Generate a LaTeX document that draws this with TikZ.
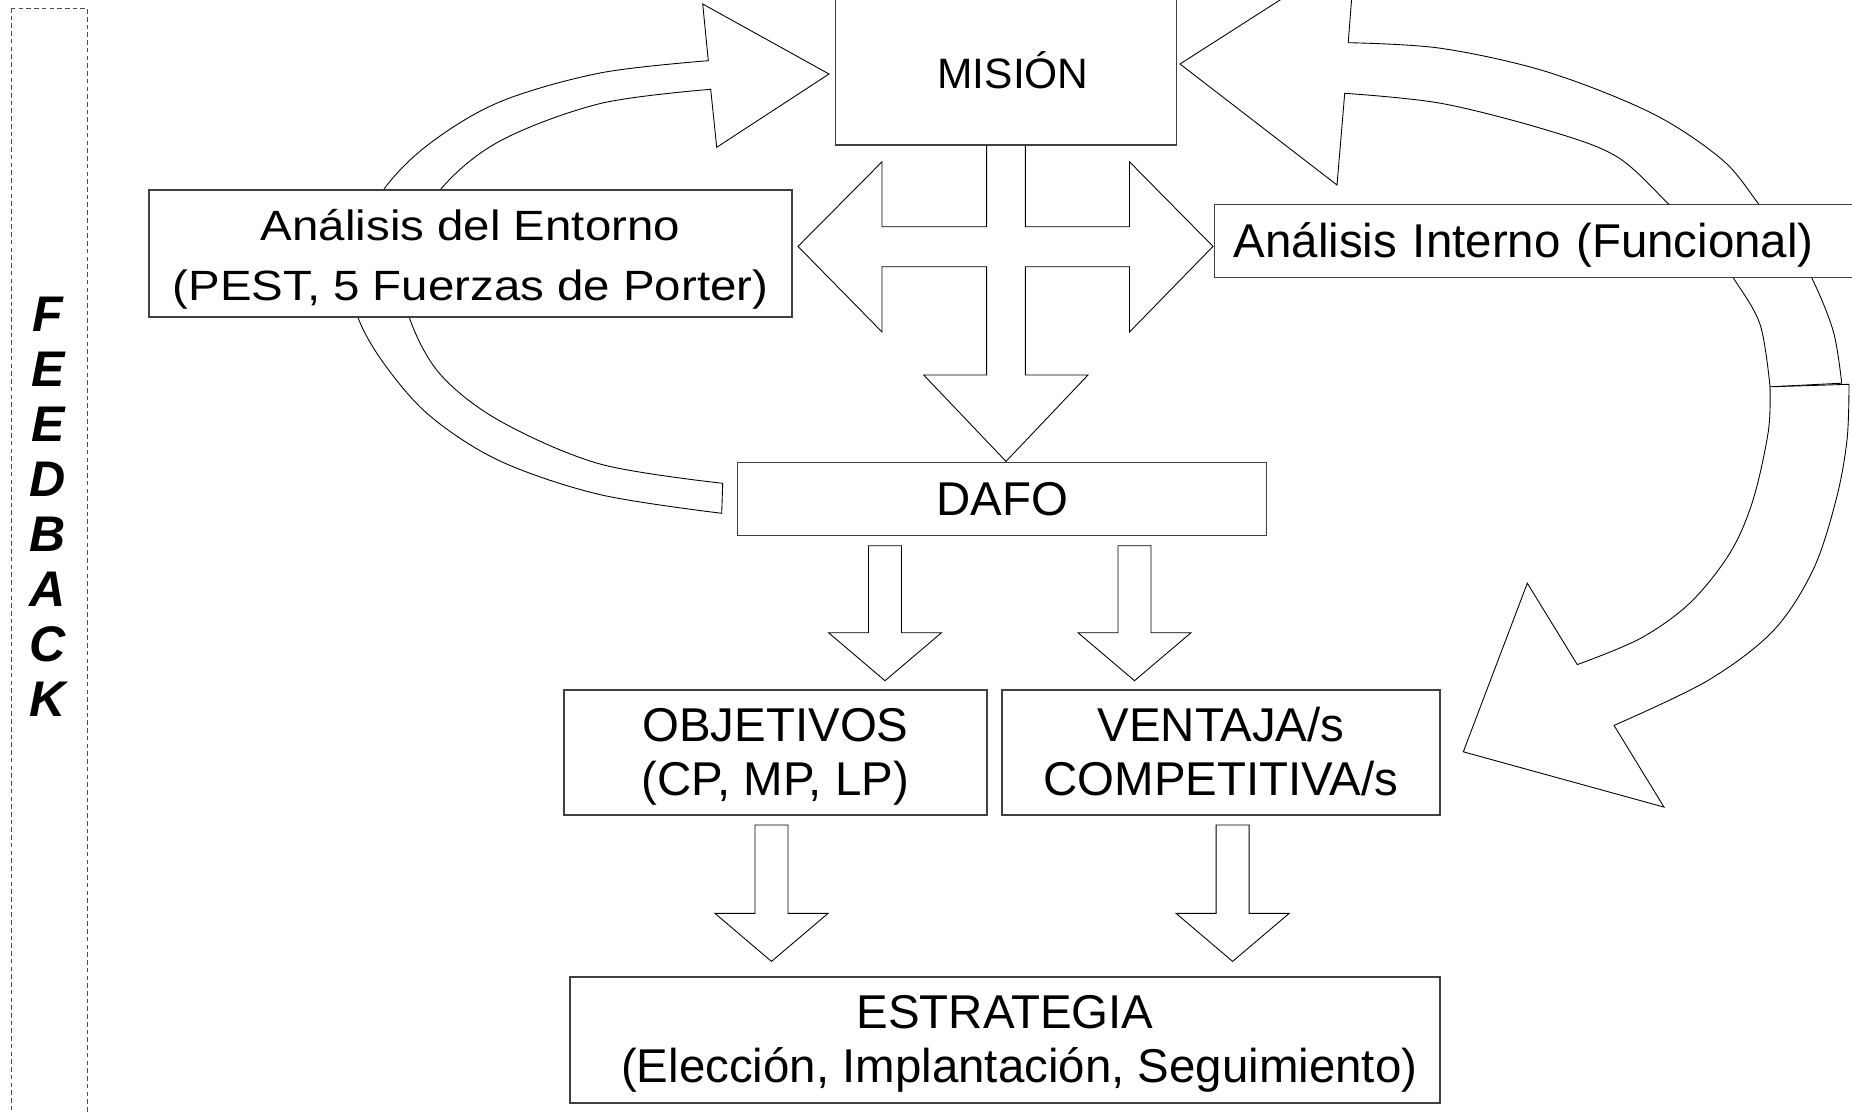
\documentclass[tikz,border=0pt]{standalone}
\usepackage{fontspec}
\setmainfont{Liberation Sans}
\newfontfamily\widesans{Liberation Sans}[FakeStretch=1.12]
\usetikzlibrary{backgrounds}

\newcommand{\boxfont}{\fontsize{27}{30.7}\selectfont}
\newcommand{\misionfont}{\fontsize{24.2}{27}\selectfont}
\newcommand{\entornofont}{\widesans\fontsize{24.1}{34.5}\selectfont}
\newcommand{\fbfont}{\fontsize{28.5}{31.3}\selectfont\bfseries\itshape}
\newcommand{\linestrut}{\rule[-0.212em]{0pt}{1.117em}}
% straight block arrow: x, top, tip
\newcommand{\fatdown}[3]{%
  \draw[fat] ({#1-16.5},#2) -- ({#1-16.5},{#3-48}) -- ({#1-56.5},{#3-48}) -- (#1,#3)
    -- ({#1+56.5},{#3-48}) -- ({#1+16.5},{#3-48}) -- ({#1+16.5},#2) -- cycle;}

\begin{document}
\begin{tikzpicture}[
 x=0.02cm, y=-0.02cm,
 stage/.style={draw=black!75,line width=0.75pt,fill=white,align=center,inner sep=0pt,font=\boxfont,
   execute at begin node=\linestrut,execute at end node=\linestrut},
 twoline/.style={execute at begin node=\rule{0pt}{#1}},
 fat/.style={draw=black,line width=0.5pt,fill=white,line join=miter},
 note/.style={draw=black!70,line width=0.5pt,dash pattern=on 2.6pt off 1.8pt}
]
\useasboundingbox (0,0) rectangle (1852,1112);

% boxes
\node[stage,minimum width=6.81cm,minimum height=2.94cm,font=\misionfont,
  execute at begin node={\rule{0pt}{1.0em}\hspace*{0.33em}}] (mision) at (1006,71.5) {MISIÓN};
\node[stage,twoline=59.1pt,minimum width=12.86cm,minimum height=2.54cm,font=\entornofont] (entorno) at (470.5,253.5) {Análisis del Entorno\\(PEST, 5 Fuerzas de Porter)};
\node[stage,anchor=west,text width=12.5cm,align=left,inner xsep=0.38cm,minimum height=1.45cm] (interno) at (1214,241) {Análisis Interno (Funcional)};
\node[stage,minimum width=10.58cm,minimum height=1.45cm] (dafo) at (1002,499) {DAFO};
\node[stage,twoline=54.7pt,minimum width=8.46cm,minimum height=2.5cm] (objetivos) at (775.4,752.4) {OBJETIVOS\\(CP, MP, LP)};
\node[stage,twoline=54.7pt,minimum width=8.76cm,minimum height=2.5cm] (ventaja) at (1221,752.5) {VENTAJA/s\\COMPETITIVA/s};
\node[stage,twoline=54.1pt,minimum width=17.4cm,minimum height=2.52cm] (estrategia) at (1005,1040) {ESTRATEGIA\\\hspace*{0.6em}(Elección, Implantación, Seguimiento)};

% feedback strip
\draw[note] (11.5,8) rectangle (87,1125);
\node[font=\fbfont,align=center,inner sep=0pt] (feedback) at (48,506.5) {F\\E\\E\\D\\B\\A\\C\\K};

\begin{scope}[on background layer]
% cross arrow below the mission
\draw[fat] (986.6,145) -- (986.6,226.8) -- (882,226.8) -- (882,161.8) -- (798,246.4) -- (882,332) -- (882,266.8)
  -- (986.6,266.8) -- (986.6,375) -- (923.7,375) -- (1006,461.4) -- (1088,375) -- (1025.4,375) -- (1025.4,266.8)
  -- (1129.5,266.8) -- (1129.5,332) -- (1213,246.4) -- (1129.5,161.8) -- (1129.5,226.8) -- (1025.4,226.8) -- (1025.4,145);

\fatdown{885}{545.7}{680.7}
\fatdown{1134.5}{545.7}{680.7}
\fatdown{771.5}{825}{961.4}
\fatdown{1232.6}{825}{961.4}

% left curved arrow
\draw[fat] plot[smooth,tension=0.55] coordinates {(721.7,513.3) (600,494.6) (500,461) (430,416) (385,365)
    (357.7,316.7) (346,258) (383.3,190) (430,143.3) (500,101.8) (600,73) (708.3,60.7)}
  -- (702.7,4) -- (829,74) -- (716.7,147.3) -- (710.7,89.3)
  -- plot[smooth,tension=0.55] coordinates {(710.7,89.3) (600,103.6) (500,141) (440,190) (400,258) (409,316.7)
    (440,374) (500,421) (600,464) (722.7,483.3)}
  -- cycle;

% right curved arrow, upper part
\draw[fat] plot[smooth,tension=0.55] coordinates {(1344.7,93.3) (1440.8,103.3) (1546.5,130) (1616.9,156.7) (1669.7,205)
    (1707,240) (1733.3,277.9) (1760,324.3) (1770,386.8)}
  -- (1841.7,383.2)
  -- plot[smooth,tension=0.55] coordinates {(1841.7,383.2) (1833.3,331.4) (1811.7,277.9) (1788,240) (1759.5,205)
    (1722.5,160) (1652,113.3) (1546.5,71.7) (1440.8,48.3) (1348.2,42.7)}
  -- (1355.3,-48.2) -- (1180,64) -- (1337,185) -- cycle;

% right curved arrow, lower part
\draw[fat] plot[smooth,tension=0.55] coordinates {(1770,386.8) (1768.3,431.4) (1753,500) (1730,552.9) (1690,602.9)
    (1640,638.6) (1577.3,664.6)}
  -- (1527.3,583.2) -- (1463.3,751.8) -- (1664,807.1) -- (1614,725.4)
  -- plot[smooth,tension=0.55] coordinates {(1614,725.4) (1707,681) (1773,631) (1813,570) (1836,500) (1847,440) (1849,384.3)}
  -- cycle;
\end{scope}
\end{tikzpicture}
\end{document}
